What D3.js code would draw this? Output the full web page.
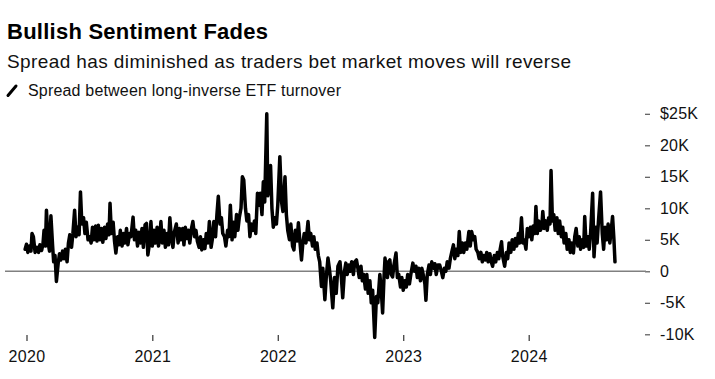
<!DOCTYPE html>
<html><head><meta charset="utf-8">
<script src="https://cdn.jsdelivr.net/npm/d3@7"></script>
<style>
html,body{margin:0;padding:0;background:#fff;}
svg{display:block;font-family:"Liberation Sans",Arial,Helvetica,sans-serif;}
</style></head>
<body><svg id="c" width="715" height="379"></svg>
<script>
const title = "Bullish Sentiment Fades";
const subtitle = "Spread has diminished as traders bet market moves will reverse";
const legendLabel = "Spread between long-inverse ETF turnover";
const xTickLabels = ["2020","2021","2022","2023","2024"];
const yTickValues = [-10, -5, 0, 5, 10, 15, 20, 25];
const yTickLabels = ["-10K","-5K","0","5K","10K","15K","20K","$25K"];
// days since 2020-01-01
const days = [-4,0,4,9,13,16,20,25,31,35,39,44,48,51,55,58,63,67,71,76,79,83,87,92,96,100,105,109,113,118,122,126,131,135,140,144,148,153,157,161,166,170,174,179,183,188,192,196,201,205,209,214,218,222,227,231,236,240,243,247,252,256,260,265,269,273,278,282,286,291,295,300,304,310,314,318,323,327,332,336,340,345,349,353,358,362,366,371,375,380,384,388,
391,395,400,404,409,413,417,422,426,430,436,441,445,449,454,458,462,467,471,475,480,484,489,493,497,502,506,510,515,519,523,528,532,537,541,545,550,554,558,563,567,571,576,580,585,589,593,598,602,606,611,615,619,624,628,632,637,641,646,650,654,659,663,667,672,676,680,685,689,693,699,702,707,710,714,718,723,727,731,737,742,746,752,756,760,765,769,774,778,782,787,791,795,800,804,808,813,819,823,827,832,836,840,845,849,853,858,862,868,872,877,881,885,891,896,901,906,912,916,920,925,929,933,938,942,946,951,955,960,964,968,973,977,981,986,990,994,999,1003,1007,1013,1018,1022,1028,1032,1036,1040,1043,1047,1050,1053,1057,1061,1065,1069,1075,1079,1083,1088,1092,1096,1101,1105,1109,1114,1118,1124,1128,1133,1137,1141,1146,1150,1154,1159,1162,1166,1171,1175,1179,1184,1188,1192,1197,
1202,1207,1211,1216,1220,1224,1229,1233,1237,1242,1246,1250,1255,1259,1263,1268,1272,1277,1281,1287,1291,1295,1300,1304,1308,1313,1317,1322,1326,1330,1335,1339,1343,1348,1352,1356,1361,1365,1370,1374,1378,1382,1385,1391,1396,1400,1404,1409,1413,1418,1422,1426,1431,1435,1440,1444,1448,1453,1457,1461,1466,1470,1474,1479,1482,1486,1490,1495,1499,1502,1506,1511,1515,1519,1523,1526,1530,1534,1538,1543,1547,1551,1556,1560,1564,1569,1573,1578,1582,1586,1591,1595,1599,1604,1608,1612,1617,1621,1624,1628,1633,1637,1641,1647,1651,1656,1660,1664,1670,1675,1679,1683,1688,1692,1697,1701,1705,1709,1712];
// spread, $ thousands
const spread = [3.5,4.3,3.0,4.0,3.2,6.0,5.5,3.0,3.8,3.0,4.2,3.3,4.4,6.5,4.0,9.7,4.5,3.2,8.8,4.0,1.5,2.5,-1.6,1.2,2.8,1.8,3.2,2.0,3.5,1.5,4.5,5.8,3.8,6.0,9.7,5.5,7.0,5.8,12.6,7.5,8.5,6.0,7.8,5.0,5.5,4.5,7.0,5.0,7.2,4.8,7.3,5.0,6.8,4.6,7.0,5.2,7.5,5.8,10.8,6.0,7.8,4.8,2.9,5.5,4.2,6.5,4.0,6.0,4.5,6.8,4.2,6.0,5.5,8.6,5.0,6.5,4.0,6.2,4.5,6.8,3.8,7.4,7.6,2.6,4.5,7.9,4.0,6.5,4.5,7.0,4.0,5.5,
7.9,4.5,6.5,3.8,6.0,4.2,8.5,5.0,3.8,6.2,7.5,4.5,6.8,5.0,6.8,4.2,7.0,5.2,6.5,4.5,6.8,7.9,5.5,6.5,4.8,3.8,5.5,3.4,5.0,3.6,6.0,4.5,7.9,3.8,5.2,7.9,5.5,9.0,11.9,7.5,8.5,6.0,5.5,4.0,6.5,5.5,10.5,5.0,7.8,5.5,9.0,6.5,8.5,10.0,15.0,14.5,10.0,8.0,9.0,5.5,7.5,6.5,8.0,6.0,12.4,10.5,12.4,9.0,14.2,11.0,25.0,12.0,14.0,16.8,10.0,7.0,8.5,7.5,10.5,18.2,11.0,9.5,15.0,9.0,6.5,5.0,7.5,4.0,3.4,6.5,4.8,7.7,5.0,1.8,4.5,6.0,4.5,7.9,5.0,6.0,4.0,5.5,3.5,4.5,2.5,1.5,-2.4,0.5,-4.5,-1.0,2.1,0.5,-1.5,-5.8,-1.0,-3.5,0.8,1.5,-1.0,-4.2,0.0,1.3,-0.5,1.0,0.0,1.5,-0.5,1.5,1.8,0.5,-1.0,0.8,-1.5,-0.5,-2.8,-0.5,-3.5,-1.5,-5.0,-3.0,-10.5,-4.0,-5.0,-0.5,-3.0,-6.6,-1.0,2.1,0.0,-1.0,1.5,1.8,-0.5,-0.9,1.0,2.9,-1.0,-0.5,-2.5,-1.0,-3.0,-1.5,-2.5,-0.5,-2.0,-0.5,1.3,0.0,0.8,-1.0,0.5,-1.5,0.5,-0.5,-2.0,-4.6,-0.5,1.0,-0.5,1.5,0.5,1.2,-0.5,1.0,
1.0,0.0,-1.0,0.5,0.0,1.5,0.5,2.0,3.0,4.2,2.0,3.5,2.5,6.3,3.0,4.5,3.0,4.5,3.5,6.3,4.0,6.3,5.0,5.5,3.5,3.0,2.0,3.0,1.5,2.5,1.8,3.0,1.5,2.8,1.5,0.8,2.5,1.5,3.0,2.0,3.5,4.7,2.5,0.8,3.0,2.0,4.5,3.0,5.0,3.5,5.2,4.0,6.0,4.5,8.5,4.5,5.0,3.5,6.8,5.5,7.0,5.0,7.2,6.0,10.3,6.0,8.0,6.5,7.0,9.5,6.8,8.0,6.5,8.5,7.5,16.0,8.0,9.0,6.5,8.5,6.0,8.0,5.5,7.0,4.5,6.0,3.5,5.0,3.0,4.5,2.9,5.5,6.8,4.0,5.5,3.5,5.0,3.8,8.7,4.0,5.5,3.5,6.0,12.4,2.3,7.0,4.5,8.0,12.6,6.0,3.5,7.0,5.0,7.5,4.5,6.5,8.7,5.0,1.5];

const base = new Date(Date.UTC(2020,0,1));
const data = days.map((d,i)=>({date: d3.utcDay.offset(base, d), v: spread[i]}));

const svg = d3.select("#c");
const x = d3.scaleUtc()
  .domain([new Date(Date.UTC(2020,0,1)), new Date(Date.UTC(2024,0,1))])
  .range([26.5, 528.7]);
const y = d3.scaleLinear().domain([-10, 25]).range([334.3, 113.8]);

// titles
svg.append("text").attr("x",7).attr("y",39).attr("font-size",22).attr("font-weight","bold")
  .attr("letter-spacing",0.25).attr("fill","#000").text(title);
svg.append("text").attr("x",7).attr("y",68).attr("font-size",19).attr("letter-spacing",0.4)
  .attr("fill","#111").text(subtitle);
svg.append("line").attr("x1",8).attr("y1",95.5).attr("x2",16).attr("y2",86)
  .attr("stroke","#000").attr("stroke-width",3).attr("stroke-linecap","round");
svg.append("text").attr("x",28).attr("y",95.5).attr("font-size",16).attr("letter-spacing",0.18)
  .attr("fill","#111").text(legendLabel);

// y axis (right)
const yAxis = d3.axisRight(y).tickValues(yTickValues).tickSize(5).tickPadding(10)
  .tickFormat((d,i)=>yTickLabels[i]);
const gy = svg.append("g").attr("transform","translate(645,0)").call(yAxis);
gy.select(".domain").remove();
gy.selectAll(".tick line").attr("stroke","#555").attr("stroke-width",1.2);
gy.selectAll(".tick text").attr("font-size",16).attr("fill","#111").attr("letter-spacing",0.2)
  .attr("font-family","'Liberation Sans',Arial,sans-serif");

// zero line
svg.append("line").attr("x1",5).attr("x2",646).attr("y1",y(0)).attr("y2",y(0))
  .attr("stroke","#808080").attr("stroke-width",1.6);

// x axis
const xTickDates = xTickLabels.map(s=>new Date(Date.UTC(+s,0,1)));
const xAxis = d3.axisBottom(x).tickValues(xTickDates).tickSize(6).tickPadding(10)
  .tickFormat((d,i)=>xTickLabels[i]);
const gx = svg.append("g").attr("transform","translate(0,335)").call(xAxis);
gx.select(".domain").remove();
gx.selectAll(".tick line").attr("stroke","#333").attr("stroke-width",1.2);
gx.selectAll(".tick text").attr("font-size",16).attr("fill","#111").attr("letter-spacing",0.3)
  .attr("font-family","'Liberation Sans',Arial,sans-serif");

// line
const line = d3.line().x(d=>x(d.date)).y(d=>y(d.v));
svg.append("path").datum(data).attr("d",line).attr("fill","none")
  .attr("stroke","#000").attr("stroke-width",3.5).attr("stroke-linejoin","round").attr("stroke-linecap","round");
</script></body></html>
